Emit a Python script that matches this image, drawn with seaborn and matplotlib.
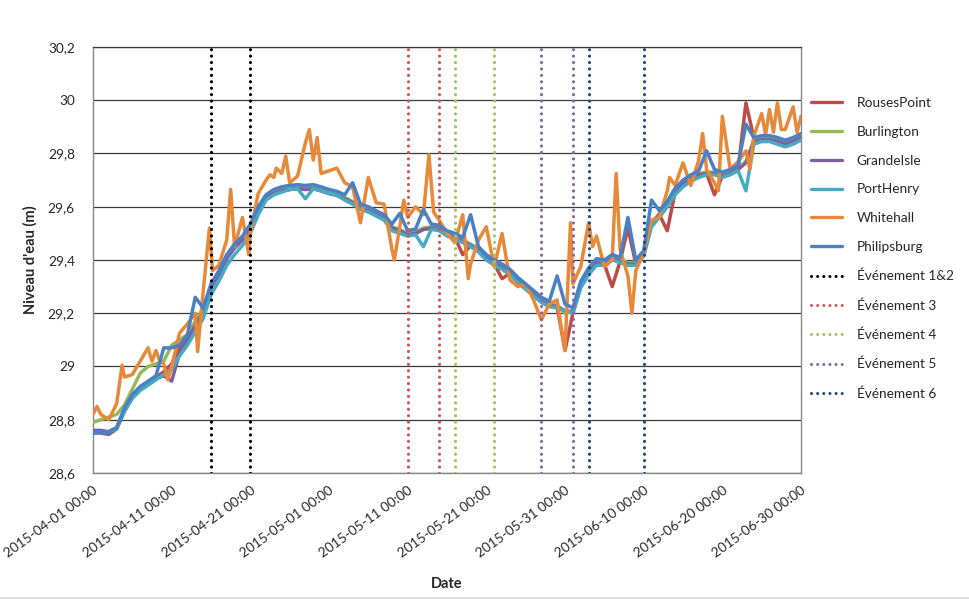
import numpy as np
import pandas as pd
import matplotlib
matplotlib.use("Agg")
import matplotlib.pyplot as plt
import matplotlib.dates as mdates
from matplotlib.lines import Line2D
import seaborn as sns

# ---------------- data ----------------
start = "2015-04-01 00:00"
days = list(range(91))  # daily samples, Apr 1 .. Jun 30

rouses_point = [28.76, 28.76, 28.755, 28.77, 28.84, 28.89, 28.92, 28.94, 28.96, 28.98,
                29.01, 29.07, 29.11, 29.16, 29.21, 29.30, 29.35, 29.41, 29.45, 29.48,
                29.52, 29.585, 29.635, 29.65, 29.66, 29.665, 29.668, 29.665, 29.668, 29.66,
                29.65, 29.643, 29.63, 29.615, 29.595, 29.585, 29.57, 29.555, 29.52, 29.51,
                29.495, 29.50, 29.515, 29.52, 29.515, 29.495, 29.485, 29.42, 29.455, 29.435,
                29.405, 29.385, 29.33, 29.35, 29.32, 29.295, 29.27, 29.245, 29.23, 29.225,
                29.06, 29.20, 29.30, 29.355, 29.39, 29.385, 29.30, 29.395, 29.52, 29.385,
                29.42, 29.535, 29.57, 29.51, 29.655, 29.685, 29.705, 29.72, 29.725, 29.645,
                29.715, 29.725, 29.74, 29.99, 29.86, 29.855, 29.855, 29.845, 29.835, 29.845,
                29.86]

burlington = [28.79, 28.80, 28.81, 28.82, 28.855, 28.915, 28.975, 29.00, 29.01, 29.02,
              29.08, 29.10, 29.12, 29.17, 29.22, 29.30, 29.35, 29.41, 29.45, 29.48,
              29.525, 29.59, 29.64, 29.655, 29.665, 29.67, 29.673, 29.67, 29.673, 29.665,
              29.655, 29.648, 29.635, 29.62, 29.60, 29.59, 29.575, 29.56, 29.525, 29.515,
              29.50, 29.506, 29.52, 29.525, 29.52, 29.50, 29.49, 29.475, 29.46, 29.44,
              29.41, 29.39, 29.375, 29.355, 29.325, 29.30, 29.275, 29.25, 29.235, 29.23,
              29.20, 29.21, 29.31, 29.36, 29.395, 29.39, 29.41, 29.40, 29.39, 29.39,
              29.425, 29.54, 29.575, 29.61, 29.66, 29.69, 29.71, 29.725, 29.73, 29.73,
              29.72, 29.73, 29.745, 29.77, 29.85, 29.86, 29.86, 29.855, 29.845, 29.855,
              29.87]

grande_isle = [28.75, 28.75, 28.745, 28.765, 28.835, 28.885, 28.915, 28.935, 28.955, 28.965,
               28.945, 29.05, 29.10, 29.155, 29.205, 29.295, 29.345, 29.405, 29.445, 29.475,
               29.52, 29.585, 29.635, 29.65, 29.66, 29.665, 29.668, 29.665, 29.668, 29.66,
               29.65, 29.643, 29.63, 29.615, 29.595, 29.585, 29.57, 29.555, 29.52, 29.51,
               29.495, 29.50, 29.515, 29.52, 29.515, 29.495, 29.485, 29.47, 29.455, 29.435,
               29.405, 29.385, 29.37, 29.35, 29.32, 29.295, 29.27, 29.245, 29.23, 29.225,
               29.21, 29.205, 29.305, 29.355, 29.39, 29.385, 29.405, 29.395, 29.385, 29.385,
               29.42, 29.535, 29.57, 29.605, 29.655, 29.685, 29.705, 29.72, 29.725, 29.725,
               29.715, 29.725, 29.74, 29.765, 29.845, 29.852, 29.852, 29.845, 29.835, 29.845,
               29.86]

port_henry = [28.755, 28.755, 28.755, 28.765, 28.83, 28.88, 28.91, 28.93, 28.95, 28.97,
              28.99, 29.04, 29.08, 29.13, 29.18, 29.27, 29.32, 29.38, 29.42, 29.455,
              29.50, 29.57, 29.625, 29.645, 29.655, 29.665, 29.668, 29.63, 29.668, 29.66,
              29.65, 29.643, 29.625, 29.61, 29.59, 29.58, 29.565, 29.55, 29.51, 29.50,
              29.49, 29.495, 29.45, 29.515, 29.51, 29.49, 29.48, 29.465, 29.45, 29.43,
              29.40, 29.38, 29.365, 29.345, 29.315, 29.29, 29.265, 29.24, 29.225, 29.22,
              29.21, 29.20, 29.295, 29.345, 29.38, 29.38, 29.40, 29.39, 29.38, 29.38,
              29.415, 29.525, 29.56, 29.60, 29.645, 29.675, 29.695, 29.71, 29.72, 29.72,
              29.71, 29.72, 29.735, 29.66, 29.835, 29.845, 29.845, 29.835, 29.825, 29.835,
              29.85]

philipsburg = [28.755, 28.755, 28.755, 28.77, 28.845, 28.895, 28.925, 28.945, 28.965, 29.07,
               29.07, 29.08, 29.12, 29.26, 29.22, 29.31, 29.36, 29.42, 29.46, 29.49,
               29.535, 29.60, 29.645, 29.665, 29.675, 29.68, 29.683, 29.68, 29.683, 29.675,
               29.665, 29.658, 29.645, 29.69, 29.61, 29.60, 29.585, 29.57, 29.535, 29.575,
               29.51, 29.516, 29.59, 29.535, 29.53, 29.51, 29.50, 29.485, 29.57, 29.45,
               29.42, 29.40, 29.385, 29.365, 29.335, 29.31, 29.285, 29.26, 29.245, 29.34,
               29.235, 29.22, 29.32, 29.37, 29.405, 29.40, 29.42, 29.41, 29.56, 29.40,
               29.435, 29.625, 29.585, 29.62, 29.67, 29.70, 29.72, 29.735, 29.81, 29.74,
               29.73, 29.74, 29.755, 29.91, 29.86, 29.867, 29.867, 29.86, 29.85, 29.86,
               29.875]

whitehall_days = [0, 0.5, 1, 2, 3, 3.7, 4, 5, 6, 7, 7.5, 8, 8.5, 9, 9.5, 10, 11, 12, 13, 13.3,
                  14, 14.8, 15.2, 16, 17, 17.5, 18, 19, 19.8, 20, 21, 22, 22.5, 23, 23.3, 24,
                  24.5, 25, 26, 27, 27.5, 28, 28.5, 29, 30, 31, 32, 33, 34, 35, 36, 37, 38,
                  38.3, 39, 39.5, 40, 41, 42, 42.7, 43.3, 44, 45, 46, 47, 47.7, 48, 49, 50,
                  51, 52, 53, 54, 55, 56, 57, 58, 59, 59.5, 60, 60.7, 61, 62, 63, 63.5, 64,
                  65, 66, 66.5, 67, 68, 68.5, 69, 70, 71, 72, 73, 73.3, 74, 75, 76, 77, 77.5,
                  78, 79, 79.5, 80, 81, 82, 83, 83.5, 84, 85, 85.5, 86, 86.5, 87, 87.5, 88,
                  89, 89.5, 90]
whitehall = [28.82, 28.85, 28.82, 28.80, 28.86, 29.005, 28.96, 28.97, 29.02, 29.07, 29.02,
             29.06, 29.02, 29.01, 28.95, 29.00, 29.125, 29.16, 29.20, 29.056,
             29.28, 29.52, 29.36, 29.38, 29.475, 29.665, 29.45, 29.56, 29.42, 29.50, 29.65,
             29.70, 29.72, 29.71, 29.745, 29.725,
             29.79, 29.69, 29.715, 29.84, 29.89, 29.775, 29.86, 29.725, 29.735, 29.745,
             29.69, 29.675, 29.54, 29.71, 29.615, 29.61, 29.44,
             29.40, 29.525, 29.625, 29.56, 29.60, 29.57, 29.795, 29.58, 29.55, 29.50, 29.465,
             29.57, 29.33, 29.385, 29.475, 29.525,
             29.375, 29.50, 29.325, 29.30, 29.31, 29.25, 29.175, 29.235, 29.25, 29.15, 29.06,
             29.54, 29.31, 29.375, 29.54, 29.45, 29.49,
             29.375, 29.40, 29.725, 29.44, 29.34, 29.20, 29.36, 29.425, 29.55, 29.56, 29.66,
             29.71, 29.68, 29.765, 29.68, 29.775, 29.875,
             29.74, 29.69, 29.66, 29.94, 29.74, 29.77, 29.81, 29.74, 29.865, 29.95, 29.87,
             29.965, 29.88, 29.99, 29.89, 29.89,
             29.975, 29.88, 29.94]

stations = ["RousesPoint", "Burlington", "GrandeIsle", "PortHenry", "Whitehall", "Philipsburg"]
station_colors = ["#BE4B48", "#98B954", "#7D60A0", "#46AAC5", "#E8893A", "#4A80C4"]

event_labels = ["Événement 1&2", "Événement 3", "Événement 4", "Événement 5", "Événement 6"]
event_dates = [["2015-04-16", "2015-04-21"],
               ["2015-05-11", "2015-05-15"],
               ["2015-05-17", "2015-05-22"],
               ["2015-05-28", "2015-06-01"],
               ["2015-06-03", "2015-06-10"]]
event_colors = ["#000000", "#C85A5A", "#A5C25E", "#8468A8", "#1F497D"]

y_ticks = [28.6, 28.8, 29.0, 29.2, 29.4, 29.6, 29.8, 30.0, 30.2]
y_tick_labels = ["28,6", "28,8", "29", "29,2", "29,4", "29,6", "29,8", "30", "30,2"]

# ---------------- build long table ----------------
t0 = pd.Timestamp(start)
frames = []
daily = {"RousesPoint": rouses_point, "Burlington": burlington, "GrandeIsle": grande_isle,
         "PortHenry": port_henry, "Philipsburg": philipsburg}
for name, vals in daily.items():
    frames.append(pd.DataFrame({"time": t0 + pd.to_timedelta(days, unit="D"),
                                "level": vals, "station": name}))
frames.append(pd.DataFrame({"time": t0 + pd.to_timedelta(whitehall_days, unit="D"),
                            "level": whitehall, "station": "Whitehall"}))
df = pd.concat(frames, ignore_index=True)

# ---------------- plot ----------------
sns.set_style("white")
plt.rcParams["font.family"] = ["Lato", "DejaVu Sans"]

fig = plt.figure(figsize=(9.7, 6.08), dpi=100)
ax = fig.add_axes([93 / 970, 1 - 473 / 608, (801 - 93) / 970, (473 - 47) / 608])

for i, name in enumerate(stations):
    sub = df[df["station"] == name]
    sns.lineplot(data=sub, x="time", y="level", color=station_colors[i], lw=2.5,
                 estimator=None, ax=ax, zorder=3 + i, legend=False)

for lbl, dates, col in zip(event_labels, event_dates, event_colors):
    for d in dates:
        ax.axvline(pd.Timestamp(d), color=col, lw=2.3, linestyle=(0, (0.01, 2.0)),
                   dash_capstyle="round", zorder=12)

ax.set_ylim(28.6, 30.2)
ax.set_xlim(pd.Timestamp("2015-04-01"), pd.Timestamp("2015-06-30"))
ax.set_yticks(y_ticks)
ax.set_yticklabels(y_tick_labels)
xt = pd.date_range("2015-04-01", "2015-06-30", freq="10D")
ax.set_xticks(xt)
ax.set_xticklabels([t.strftime("%Y-%m-%d %H:%M") for t in xt], rotation=36,
                   ha="right", va="top", rotation_mode="anchor")
ax.tick_params(axis="x", direction="in", length=4, color="#868686", labelsize=9.8, pad=8)
ax.tick_params(axis="y", length=0, labelsize=9.8, pad=13)

ax.yaxis.grid(True, color="#3a3a3a", lw=0.9)
ax.xaxis.grid(False)
for s in ["left", "bottom", "right"]:
    ax.spines[s].set_color("#868686")
    ax.spines[s].set_linewidth(1.0)
ax.spines["top"].set_color("#3a3a3a")
ax.spines["top"].set_linewidth(0.9)

ax.set_xlabel("Date", fontsize=10.5, fontweight="bold")
ax.set_ylabel("Niveau d'eau (m)", fontsize=10.5, fontweight="bold")
ax.xaxis.set_label_coords((447 - 93) / (801 - 93), -(577 - 473) / (473 - 47))
ax.yaxis.set_label_coords(-(93 - 38) / (801 - 93), 0.5)

handles = [Line2D([], [], color=c, lw=2.4) for c in station_colors]
handles += [Line2D([], [], color=c, lw=2.2, linestyle=(0, (0.01, 2.0)), dash_capstyle="round")
            for c in event_colors]
labels = stations + event_labels
leg = fig.legend(handles, labels, loc="upper left", bbox_to_anchor=(811 / 970, 1 - 97 / 608),
                 frameon=False, fontsize=9.8, handlelength=2.3, handletextpad=1.05,
                 labelspacing=1.235, borderpad=0, borderaxespad=0)

fig.add_artist(Line2D([0, 1], [1 - 598 / 608, 1 - 598 / 608], color="#D9D9D9", lw=1.2,
                      transform=fig.transFigure))

fig.savefig("out.png", dpi=100)
